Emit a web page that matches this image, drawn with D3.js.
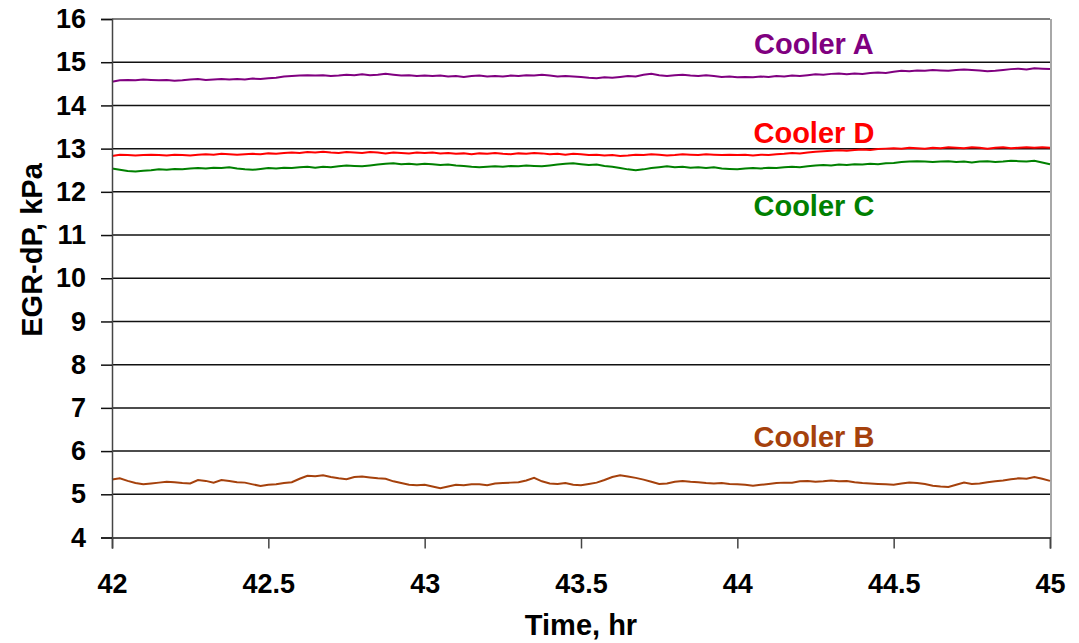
<!DOCTYPE html>
<html>
<head>
<meta charset="utf-8">
<script src="https://cdn.jsdelivr.net/npm/d3@7"></script>
<style>
    body { margin: 0; background: #fff; }
    text { font-family: "Liberation Sans", Arial, sans-serif; font-weight: bold; }
</style>
</head>
<body>
<div id="chart"></div>
<script>
// time axis, one reading every 0.025 hr
const timeStart = 42;
const timeStep = 0.025;

const coolerA = [
    14.55,14.58,14.59,14.58,14.60,14.59,14.58,14.59,14.57,14.58,14.60,14.61,14.59,14.60,14.61,14.60,14.61,14.60,14.62,14.61,
    14.63,14.64,14.67,14.68,14.69,14.70,14.69,14.70,14.68,14.69,14.71,14.70,14.72,14.70,14.71,14.73,14.71,14.69,14.70,14.68,
    14.69,14.68,14.69,14.67,14.68,14.66,14.68,14.69,14.67,14.68,14.67,14.69,14.68,14.70,14.69,14.71,14.69,14.67,14.68,14.67,
    14.66,14.64,14.63,14.65,14.64,14.66,14.68,14.67,14.71,14.73,14.70,14.68,14.70,14.71,14.69,14.68,14.70,14.68,14.66,14.67,
    14.65,14.66,14.65,14.67,14.66,14.68,14.67,14.69,14.68,14.70,14.72,14.71,14.73,14.74,14.72,14.74,14.73,14.75,14.76,14.75,
    14.78,14.80,14.79,14.81,14.80,14.82,14.81,14.80,14.82,14.83,14.82,14.81,14.79,14.80,14.82,14.84,14.85,14.83,14.86,14.85,
    14.84
];
const coolerD = [
    12.83,12.86,12.85,12.84,12.85,12.86,12.85,12.84,12.86,12.85,12.84,12.86,12.87,12.86,12.88,12.87,12.86,12.87,12.88,12.87,
    12.89,12.88,12.90,12.91,12.90,12.92,12.91,12.93,12.91,12.90,12.92,12.91,12.90,12.92,12.91,12.89,12.91,12.90,12.89,12.91,
    12.90,12.91,12.89,12.90,12.88,12.89,12.87,12.89,12.88,12.90,12.88,12.87,12.89,12.88,12.90,12.89,12.87,12.88,12.86,12.88,
    12.87,12.85,12.86,12.84,12.85,12.83,12.84,12.86,12.85,12.87,12.86,12.84,12.85,12.87,12.86,12.85,12.87,12.86,12.85,12.86,
    12.85,12.86,12.84,12.86,12.85,12.87,12.88,12.90,12.89,12.91,12.93,12.94,12.95,12.96,12.95,12.97,12.98,12.97,12.99,13.00,
    13.01,13.00,13.02,13.01,13.00,13.02,13.01,13.03,13.02,13.01,13.03,13.02,13.00,13.02,13.03,13.01,13.02,13.03,13.02,13.03,
    13.02
];
const coolerC = [
    12.54,12.51,12.48,12.47,12.49,12.50,12.52,12.51,12.53,12.52,12.54,12.55,12.54,12.56,12.55,12.57,12.54,12.52,12.51,12.53,
    12.55,12.54,12.56,12.55,12.57,12.58,12.56,12.58,12.57,12.59,12.61,12.60,12.59,12.61,12.63,12.65,12.66,12.64,12.65,12.63,
    12.65,12.64,12.62,12.63,12.61,12.60,12.58,12.57,12.58,12.59,12.58,12.60,12.59,12.61,12.60,12.59,12.61,12.63,12.65,12.66,
    12.64,12.62,12.63,12.60,12.58,12.55,12.52,12.50,12.52,12.55,12.57,12.59,12.57,12.58,12.56,12.57,12.55,12.57,12.54,12.53,
    12.52,12.54,12.55,12.54,12.56,12.55,12.57,12.58,12.57,12.59,12.61,12.62,12.61,12.63,12.62,12.64,12.63,12.65,12.64,12.66,
    12.67,12.69,12.70,12.71,12.70,12.69,12.70,12.71,12.69,12.70,12.68,12.70,12.71,12.69,12.70,12.72,12.71,12.70,12.72,12.68,
    12.64
];
const coolerB = [
    5.34,5.37,5.31,5.26,5.23,5.25,5.27,5.29,5.28,5.26,5.25,5.33,5.31,5.27,5.33,5.31,5.28,5.27,5.23,5.19,
    5.22,5.23,5.26,5.28,5.36,5.43,5.42,5.44,5.40,5.37,5.35,5.40,5.41,5.39,5.37,5.36,5.30,5.26,5.22,5.21,
    5.22,5.18,5.14,5.18,5.22,5.21,5.23,5.23,5.21,5.25,5.26,5.27,5.28,5.32,5.38,5.30,5.25,5.24,5.26,5.22,
    5.21,5.24,5.27,5.33,5.40,5.44,5.41,5.38,5.34,5.29,5.24,5.25,5.29,5.31,5.29,5.28,5.26,5.25,5.26,5.24,
    5.23,5.22,5.20,5.22,5.24,5.26,5.27,5.27,5.30,5.31,5.29,5.30,5.32,5.30,5.31,5.28,5.26,5.25,5.24,5.23,
    5.22,5.25,5.27,5.26,5.24,5.20,5.18,5.17,5.22,5.27,5.24,5.25,5.28,5.30,5.32,5.35,5.37,5.36,5.40,5.36,
    5.31
];

const seriesNames = ["Cooler A", "Cooler D", "Cooler C", "Cooler B"];
const seriesColors = ["#800080", "#ff0000", "#008000", "#a5410c"];
const xTicks = [42, 42.5, 43, 43.5, 44, 44.5, 45];
const yTicks = [4, 5, 6, 7, 8, 9, 10, 11, 12, 13, 14, 15, 16];

var width = 1079;
var height = 643;
var margin = { "top": 19, "bottom": 105.5, "right": 29, "left": 112 };

var svg = d3.select("#chart").append("svg").attr("width", width).attr("height", height);

var xScale = d3.scaleLinear().domain([42, 45]).range([margin.left, width - margin.right]);
var yScale = d3.scaleLinear().domain([4, 16]).range([height - margin.bottom, margin.top]);

// horizontal grid
svg.append("g")
    .selectAll("line")
    .data(yTicks.filter((d)=>d > 4))
    .enter()
    .append("line")
    .attr("x1", xScale(42))
    .attr("x2", xScale(45))
    .attr("y1", (d)=>yScale(d))
    .attr("y2", (d)=>yScale(d))
    .attr("stroke", (d)=>d == 16 ? "#555" : "#111")
    .attr("stroke-width", 1.5);

// right frame edge
svg.append("line")
    .attr("x1", xScale(45) + 1).attr("x2", xScale(45) + 1)
    .attr("y1", yScale(16)).attr("y2", yScale(4))
    .attr("stroke", "#a8a8a8")
    .attr("stroke-width", 2);

// lines
const allSeries = [coolerA, coolerD, coolerC, coolerB];
const line = d3.line()
    .x((d, i)=>xScale(timeStart + i * timeStep))
    .y((d)=>yScale(d));

allSeries.forEach((s, k)=>{
    svg.append("path")
        .datum(s)
        .attr("fill", "none")
        .attr("stroke", seriesColors[k])
        .attr("stroke-width", 2)
        .attr("d", line);
});

// axes
var axisx = d3.axisBottom(xScale).tickValues(xTicks).tickSize(11).tickPadding(25).tickFormat(d3.format("~g"));
var axisy = d3.axisLeft(yScale).tickValues(yTicks).tickSize(11).tickPadding(15).tickFormat(d3.format("d"));

const gx = svg.append("g")
    .attr("transform", "translate(0," + yScale(4) + ")")
    .call(axisx);
gx.select(".domain").attr("stroke", "#111").attr("stroke-width", 1.5);
gx.selectAll(".tick line").attr("stroke", "#444").attr("stroke-width", 1.5);
gx.selectAll(".tick text").attr("font-size", "27px").attr("fill", "#000");

const gy = svg.append("g")
    .attr("transform", "translate(" + margin.left + ",0)")
    .call(axisy);
gy.select(".domain").attr("stroke", "#444").attr("stroke-width", 1.5);
gy.selectAll(".tick line").attr("stroke", "#111").attr("stroke-width", 1.5);
gy.selectAll(".tick text").attr("font-size", "27px").attr("fill", "#000");

// axis titles
svg.append("text")
    .attr("x", xScale(43.5))
    .attr("y", 635)
    .attr("text-anchor", "middle")
    .attr("font-size", "29px")
    .text("Time, hr");

svg.append("text")
    .attr("transform", "translate(42," + 250 + ") rotate(-90)")
    .attr("text-anchor", "middle")
    .attr("font-size", "29px")
    .text("EGR-dP, kPa");

// series labels, baseline given in data units
const labelY = [15.19, 13.13, 11.43, 6.10];
svg.append("g")
    .selectAll("text")
    .data(seriesNames)
    .enter()
    .append("text")
    .attr("x", xScale(44.245))
    .attr("y", (d, i)=>yScale(labelY[i]))
    .attr("text-anchor", "middle")
    .attr("font-size", "29px")
    .attr("fill", (d, i)=>seriesColors[i])
    .text((d)=>d);
</script>
</body>
</html>
